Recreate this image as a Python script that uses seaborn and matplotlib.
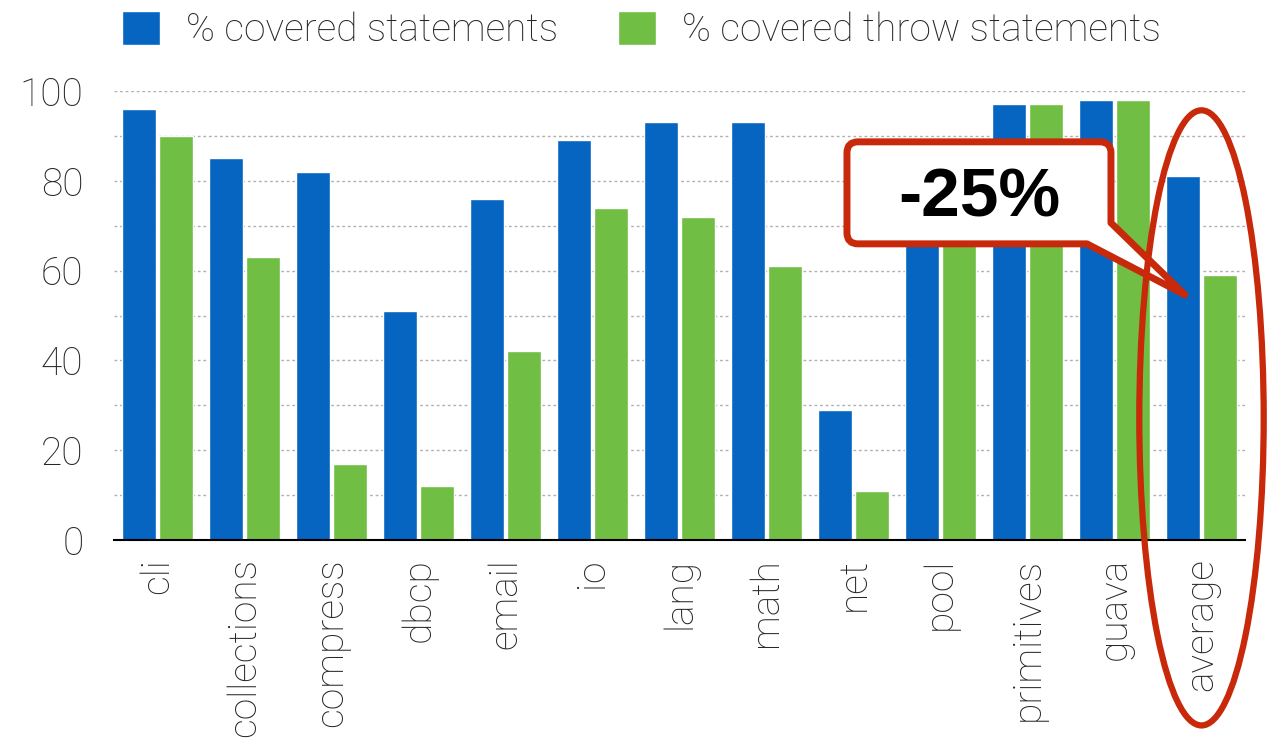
import matplotlib
matplotlib.use("Agg")
import pandas as pd
import matplotlib.pyplot as plt
import seaborn as sns
from matplotlib.patches import Ellipse, PathPatch
from matplotlib.path import Path
from matplotlib.transforms import Affine2D, ScaledTranslation

# Data
projects = ["cli", "collections", "compress", "dbcp", "email", "io", "lang",
            "math", "net", "pool", "primitives", "guava", "average"]
covered_statements = [96, 85, 82, 51, 76, 89, 93, 93, 29, 82, 97, 98, 81]
covered_throw = [90, 63, 17, 12, 42, 74, 72, 61, 11, 69, 97, 98, 59]
series_names = ["% covered statements", "% covered throw statements"]
bar_colors = ["#0565C0", "#71BE44"]
callout_text = "-25%"
red = "#C8290A"

df = pd.DataFrame({
    "project": projects,
    series_names[0]: covered_statements,
    series_names[1]: covered_throw,
}).melt(id_vars="project", var_name="series", value_name="value")

sns.set_style("white")
plt.rcParams["font.family"] = ["Roboto", "DejaVu Sans"]
plt.rcParams["font.weight"] = "light"

W, H = 1267, 746
fig = plt.figure(figsize=(W / 100, H / 100), dpi=100)
ax = fig.add_axes([114 / W, 206 / H, 1131 / W, 449 / H])

sns.barplot(data=df, x="project", y="value", hue="series", palette=bar_colors,
            width=0.86, gap=0.08, saturation=1, ax=ax)

ax.set_xlim(-0.5, len(projects) - 0.5)
ax.set_ylim(0, 100)
ax.set_yticks(range(0, 101, 20))
ax.set_yticks(range(10, 100, 20), minor=True)
ax.grid(axis="y", which="both", linestyle=(0, (2, 2)), color="#b0b0b0", lw=1)
ax.set_axisbelow(True)
ax.set_xlabel("")
ax.set_ylabel("")
for side in ["left", "right", "top"]:
    ax.spines[side].set_visible(False)
ax.spines["bottom"].set_color("black")
ax.spines["bottom"].set_linewidth(1.5)
ax.tick_params(axis="both", which="both", length=0, labelsize=28)
ax.tick_params(axis="y", pad=22)
ax.tick_params(axis="x", pad=13, rotation=90)

# legend on top of the figure
handles, labels = ax.get_legend_handles_labels()
ax.legend_.remove()
fig.legend(handles, labels, loc="center left", bbox_to_anchor=(122 / W, 1 - 30 / H),
           ncol=2, frameon=False, fontsize=28, handlelength=0.98, handleheight=0.98,
           handletextpad=0.66, columnspacing=1.55, borderaxespad=0, borderpad=0)

# ellipse around the average
avg_idx = projects.index("average")
ax.add_patch(Ellipse((avg_idx, 27.2), 1.43, 137, fill=False, ec=red, lw=4.5,
                     clip_on=False, zorder=10))

# speech-bubble callout, drawn in pixel offsets from the tip
tip = (avg_idx - 0.19, 54.6)
left, right, top, bottom, r = -338, -74, 153, 51, 11
verts = [
    (left + r, top), (right - r, top), (right, top), (right, top - r),
    (right, 72), (0, 0), (-98, bottom), (left + r, bottom),
    (left, bottom), (left, bottom + r), (left, top - r), (left, top),
    (left + r, top), (left + r, top),
]
codes = [Path.MOVETO, Path.LINETO, Path.CURVE3, Path.CURVE3,
         Path.LINETO, Path.LINETO, Path.LINETO, Path.LINETO,
         Path.CURVE3, Path.CURVE3, Path.LINETO, Path.CURVE3,
         Path.CURVE3, Path.CLOSEPOLY]
offset = Affine2D() + ScaledTranslation(tip[0], tip[1], ax.transData)
bubble = PathPatch(Path(verts, codes), transform=offset, fc="white", ec=red,
                   lw=5, joinstyle="round", clip_on=False, zorder=8)
ax.add_patch(bubble)
ax.text(-206, 96, callout_text, transform=offset, ha="center", va="center",
        fontsize=50, fontweight="bold", family=["Liberation Sans", "DejaVu Sans"],
        color="black", zorder=9)

fig.savefig("out.png", dpi=100)
